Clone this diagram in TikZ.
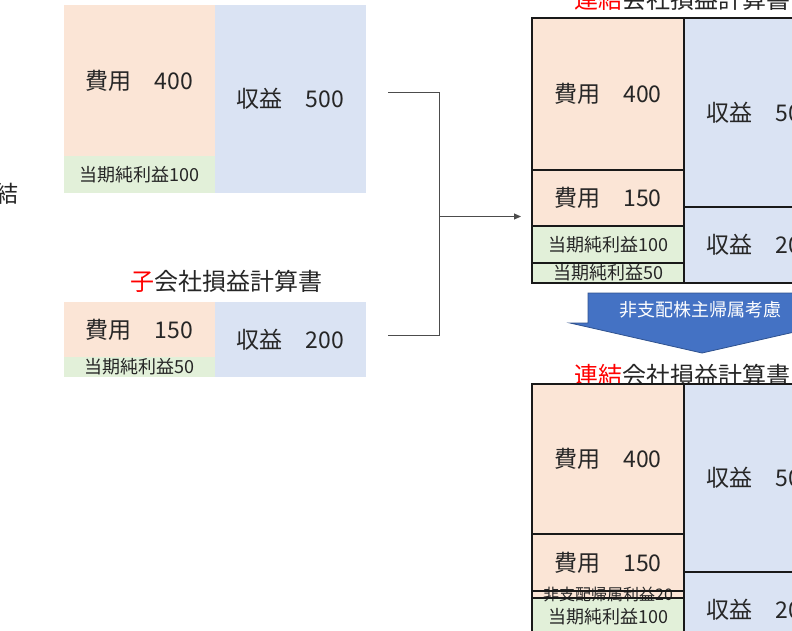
\documentclass[tikz,border=0pt]{standalone}
\usepackage{fontspec}
\setmainfont{Noto Sans CJK JP}
\usetikzlibrary{arrows.meta}
\definecolor{orng}{HTML}{FBE5D6}
\definecolor{grn}{HTML}{E2F0D9}
\definecolor{blu}{HTML}{DAE3F3}
\definecolor{abl}{HTML}{4472C4}
\definecolor{abd}{HTML}{2F528F}
\definecolor{txt}{HTML}{262626}
\newcommand\fsz[1]{\fontsize{#1pt}{#1pt}\selectfont}
\begin{document}
\begin{tikzpicture}[x=1pt,y=-1pt,
  cell/.style={anchor=north west, inner sep=0pt, outer sep=0pt, text=txt},
  framed/.style={cell, draw=black!90, line width=1.2pt},
  big/.style={font=\fsz{23}},
  small/.style={font=\fsz{18}},
  title/.style={font=\fsz{24}, text=txt, inner sep=0pt},
  conn/.style={draw=black!70, line width=1pt}]
\useasboundingbox (0,0) rectangle (792,630);
\clip (0,0) rectangle (792,630);

% cut-off label at left
\node[title, font=\fsz{23}, anchor=east] (lft) at (19,194) {結};

% parent company
\node[cell, big, fill=orng, minimum width=151pt, minimum height=151pt] (pe) at (64,5) {費用　400};
\node[cell, small, fill=grn, minimum width=151pt, minimum height=37pt] (pn) at (64,156) {当期純利益100};
\node[cell, big, fill=blu, minimum width=151pt, minimum height=188pt] (pr) at (215,5) {収益　500};

% subsidiary
\node[title] (ct) at (226,281) {\textcolor{red}{子}会社損益計算書};
\node[cell, big, fill=orng, minimum width=151pt, minimum height=55pt] (ce) at (64,302) {費用　150};
\node[cell, small, fill=grn, minimum width=151pt, minimum height=20pt] (cn) at (64,357) {当期純利益50};
\node[cell, big, fill=blu, minimum width=151pt, minimum height=75pt] (cr) at (215,302) {収益　200};

% connectors
\coordinate (pa) at (388,92.5);
\coordinate (ca) at (388,335);
\coordinate (jn) at (439.5,216.5);
\coordinate (ae) at (521,216.5);
\draw[conn] (pa) -| (jn);
\draw[conn] (ca) -| (jn);
\draw[conn, -{Triangle[length=7pt,width=6pt]}] (jn) -- (ae);

% consolidated (top)
\node[title] (tt) at (682,-1) {\textcolor{red}{連結}会社損益計算書};
\node[framed, big, fill=orng, minimum width=152pt, minimum height=152pt] (te1) at (532,18) {費用　400};
\node[framed, big, fill=orng, minimum width=152pt, minimum height=56pt] (te2) at (532,170) {費用　150};
\node[framed, small, fill=grn, minimum width=152pt, minimum height=37pt] (tn1) at (532,226) {当期純利益100};
\node[framed, small, fill=grn, minimum width=152pt, minimum height=20pt] (tn2) at (532,263) {当期純利益50};
\node[framed, big, fill=blu, minimum width=152pt, minimum height=189pt] (tr1) at (684,18) {収益　500};
\node[framed, big, fill=blu, minimum width=152pt, minimum height=76pt] (tr2) at (684,207) {収益　200};

% callout arrow
\path[fill=abl, draw=abd, line width=0.8pt] (588,293) -- (816,293) -- (816,323) -- (834,323) -- (702,353) -- (570,323) -- (588,323) -- cycle;
\node[font=\fsz{18}, text=white, inner sep=0pt] (nc) at (700,310) {非支配株主帰属考慮};

% consolidated (bottom)
\node[title] (bt) at (682,375) {\textcolor{red}{連結}会社損益計算書};
\node[framed, big, fill=orng, minimum width=152pt, minimum height=150pt] (be1) at (532,384) {費用　400};
\node[framed, big, fill=orng, minimum width=152pt, minimum height=57pt] (be2) at (532,534) {費用　150};
\node[cell, fill=orng, minimum width=152pt, minimum height=7pt] (bnc) at (532,591) {};
\node[framed, small, fill=grn, minimum width=152pt, minimum height=37pt] (bn1) at (532,598) {当期純利益100};
\node[framed, big, fill=blu, minimum width=152pt, minimum height=188pt] (br1) at (684,384) {収益　500};
\node[framed, big, fill=blu, minimum width=152pt, minimum height=76pt] (br2) at (684,572) {収益　200};
\node[font=\fsz{16}, text=txt, inner sep=0pt] (bncl) at (bnc.center) {非支配帰属利益20};
\draw[draw=black!90, line width=1.2pt] (bnc.north west) rectangle (bnc.south east);
\end{tikzpicture}
\end{document}
